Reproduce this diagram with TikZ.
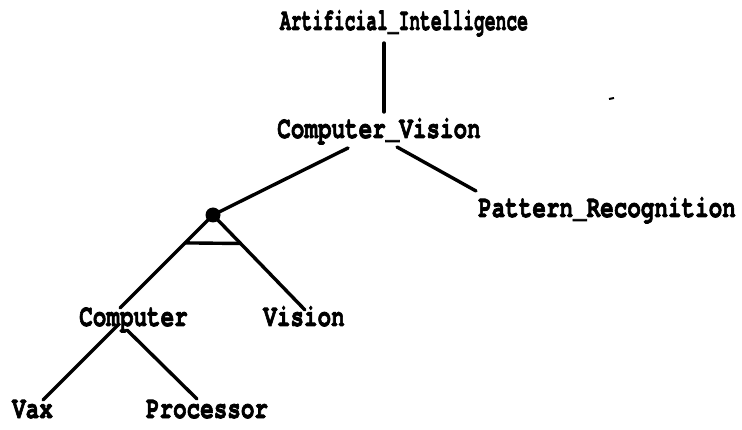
\documentclass[tikz,border=0pt]{standalone}
\usepackage{fontspec}
\newfontfamily\treefont{TeX Gyre Cursor}[Ligatures=NoCommon, BoldFeatures={FakeBold=2.6}]
\newcommand{\tlabel}[2][1]{\scalebox{#1}[1.38]{\treefont\bfseries #2}}
\tikzset{
  term/.style={inner sep=0pt, outer sep=0pt, anchor=base,
               font=\fontsize{22.6}{24}\selectfont},
  branch/.style={line width=3.4pt, line cap=round},
  joint/.style={circle, fill=black, inner sep=0pt, minimum size=15pt}
}
\begin{document}
\begin{tikzpicture}[x=1pt, y=-1pt]
  \useasboundingbox (0,0) rectangle (742,430);

  % labels
  \node[term] (ai)   at (404,30)   {\tlabel[0.795]{Artificial\_Intelligence}};
  \node[term] (cv)   at (379,138)  {\tlabel{Computer\_Vision}};
  \node[term] (pr)   at (607,217)  {\tlabel{Pattern\_Recognition}};
  \node[term] (comp) at (133.5,326) {\tlabel{Computer}};
  \node[term] (vis)  at (304,326)  {\tlabel{Vision}};
  \node[term] (vax)  at (32.5,418) {\tlabel{Vax}};
  \node[term] (proc) at (207,418)  {\tlabel{Processor}};

  % compound joint
  \node[joint] (dot) at (213,215) {};

  % tree branches
  \draw[branch] ([xshift=-20pt,yshift=-13pt]ai.base) -- ([xshift=5pt,yshift=26pt]cv.base);
  \draw[branch] ([xshift=-31pt,yshift=-10pt]cv.base) -- (dot.center);
  \draw[branch] ([xshift=18pt,yshift=-9pt]cv.base) -- ([xshift=-131pt,yshift=26pt]pr.base);
  \draw[branch] (dot.center) -- ([xshift=-13.5pt,yshift=18pt]comp.base) coordinate[pos=0.3] (barl);
  \draw[branch] (dot.center) -- ([xshift=1pt,yshift=16pt]vis.base) coordinate[pos=0.3] (barr);
  \draw[branch] (barl) -- (barr);
  \draw[branch] ([xshift=-15.5pt,yshift=1pt]comp.base) -- ([xshift=10.5pt,yshift=18pt]vax.base);
  \draw[branch] ([xshift=-6.5pt,yshift=-4pt]comp.base) -- ([xshift=-10pt,yshift=19pt]proc.base);

  % small speck
  \draw[line width=2pt] (609,99) -- (614,98);
\end{tikzpicture}
\end{document}
